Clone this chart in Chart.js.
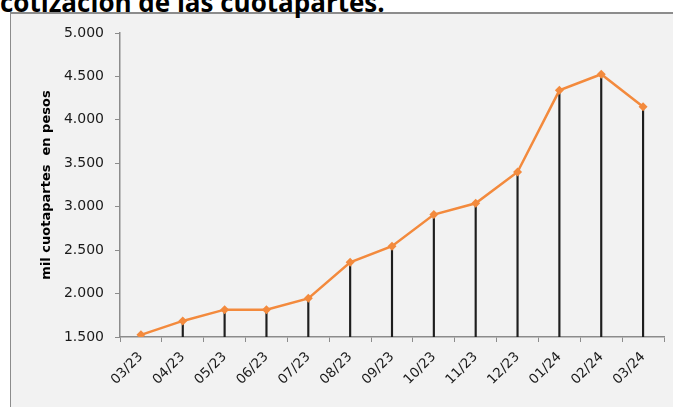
<!DOCTYPE html>
<html>
<head>
<meta charset="utf-8">
<script src="https://cdn.jsdelivr.net/npm/chart.js@4"></script>
<style>
  html, body { margin: 0; padding: 0; background: #fff; }
  #wrap { position: relative; width: 673px; height: 407px; overflow: hidden; }
  #title {
    position: absolute; left: 0; top: -16px; line-height: 26px;
    font: bold 26px "Open Sans", sans-serif; color: #000; white-space: nowrap;
  }
  #frame {
    position: absolute; left: 10px; top: 12px; width: 700px; height: 420px;
    background: #f2f2f2; border-left: 1px solid #8c8c8c; border-top: 2px solid #8c8c8c;
  }
  #chart { position: absolute; left: 0; top: 0; }
</style>
</head>
<body>
<div id="wrap">
  <div id="frame"></div>
  <div id="title">cotización de las cuotapartes.</div>
  <canvas id="chart" width="673" height="407"></canvas>
</div>
<script>
// months (mm/yy)
const months = ['03/23', '04/23', '05/23', '06/23', '07/23', '08/23', '09/23',
                '10/23', '11/23', '12/23', '01/24', '02/24', '03/24'];

// valor de mil cuotapartes en pesos
const values = [1525, 1685, 1815, 1815, 1945, 2360, 2545, 2910, 3040, 3400, 4340, 4525, 4150];

const yTicks = [1500, 2000, 2500, 3000, 3500, 4000, 4500, 5000];

// 1500 -> "1.500"
const fmt = v => String(v).replace(/\B(?=(\d{3})+(?!\d))/g, '.');

const ctx = document.getElementById('chart').getContext('2d');

new Chart(ctx, {
    data: {
        labels: months,
        datasets: [
            {
                type: 'line',
                data: values,
                borderColor: '#f38a3d',
                backgroundColor: '#f38a3d',
                borderWidth: 2.5,
                pointStyle: 'rectRot',
                pointRadius: 4.5,
                pointBorderWidth: 0,
                tension: 0,
                order: 1
            },
            {
                // lineas verticales hasta el eje
                type: 'bar',
                data: values,
                backgroundColor: '#1e1e1e',
                barThickness: 1.5,
                order: 2
            }
        ]
    },
    options: {
        responsive: false,
        animation: false,
        layout: { padding: { left: 39, right: 9, top: 33, bottom: 0 } },
        plugins: {
            legend: { display: false },
            tooltip: { enabled: false }
        },
        scales: {
            x: {
                type: 'category',
                offset: true,
                grid: { offset: true, drawOnChartArea: false, tickLength: 5, color: '#8c8c8c' },
                border: { color: '#8c8c8c', width: 1.5 },
                ticks: {
                    minRotation: 45, maxRotation: 45, padding: 7,
                    color: '#1a1a1a',
                    font: { family: 'DejaVu Sans', size: 13.5 }
                },
                afterFit: s => { s.height = 70; }
            },
            y: {
                min: 1500,
                max: 5000,
                afterBuildTicks: s => { s.ticks = yTicks.map(v => ({ value: v })); },
                grid: { drawOnChartArea: false, tickLength: 5, color: '#8c8c8c' },
                border: { color: '#8c8c8c', width: 1.5 },
                ticks: {
                    padding: 11,
                    color: '#1a1a1a',
                    font: { family: 'DejaVu Sans', size: 14 },
                    callback: v => fmt(v)
                },
                title: {
                    display: true,
                    text: 'mil cuotapartes  en pesos',
                    color: '#000',
                    font: { family: 'DejaVu Sans', size: 13, weight: 'bold' },
                    padding: 0
                },
                afterFit: s => { s.width = 81; }
            }
        }
    }
});
</script>
</body>
</html>
